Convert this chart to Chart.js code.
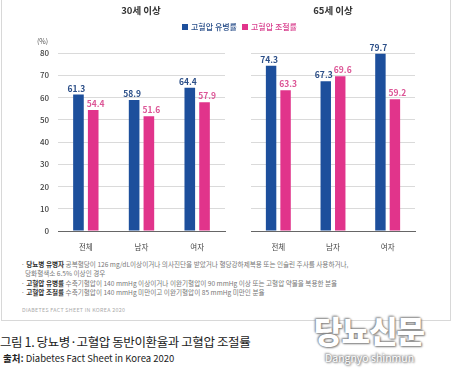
<!DOCTYPE html>
<html>
<head>
<meta charset="utf-8">
<script src="https://cdn.jsdelivr.net/npm/chart.js@4/dist/chart.umd.min.js"></script>
<style>
  body { margin: 0; background: #fff; font-family: "Noto Sans CJK KR", "Noto Sans", sans-serif; }
  #wrap { position: relative; width: 455px; height: 370px; overflow: hidden; }
  .abs { position: absolute; white-space: nowrap; }
  #box { left: 1px; top: -2px; width: 450px; height: 323px; border: 1px solid #d8d8d8; box-sizing: border-box; }
  canvas { position: absolute; top: 0; }
  .ttl { top: 3px; font-size: 9.5px; font-weight: 700; color: #333; transform: translateX(-50%); }
  .leg { top: 21px; font-size: 8px; font-weight: 500; }
  .leg i { display: inline-block; width: 6px; height: 6px; margin-right: 3px; vertical-align: 0px; }
  .note { left: 21px; font-size: 6.6px; color: #777; }
  .note b { color: #333; }
  .wm { color: #fff; text-shadow: 0 0 2px #777, 1px 1px 2px #888, -1px -1px 2px #999; }
</style>
</head>
<body>
<div id="wrap">
  <div id="box" class="abs"></div>
  <canvas id="c30" width="230" height="252" style="left:0"></canvas>
  <canvas id="c65" width="230" height="252" style="left:225px"></canvas>
  <div class="abs ttl" style="left:141px">30세 이상</div>
  <div class="abs ttl" style="left:333px">65세 이상</div>
  <div class="abs leg" style="left:182px;color:#2a4f8a"><i style="background:#1d4f9c"></i>고혈압 유병률</div>
  <div class="abs leg" style="left:242px;color:#d9418f"><i style="background:#e1348b"></i>고혈압 조절률</div>
  <div class="abs" style="left:37px;top:36px;font-size:7px;color:#555">(%)</div>

  <div class="abs note" style="top:259px">· <b>당뇨병 유병자</b> 공복혈당이 126 mg/dL이상이거나 의사진단을 받았거나 혈당강하제복용 또는 인슐린 주사를 사용하거나,</div>
  <div class="abs note" style="top:268px;left:25px">당화혈색소 6.5% 이상인 경우</div>
  <div class="abs note" style="top:278px">· <b>고혈압 유병률</b> 수축기혈압이 140 mmHg 이상이거나 이완기혈압이 90 mmHg 이상 또는 고혈압 약물을 복용한 분율</div>
  <div class="abs note" style="top:287px">· <b>고혈압 조절률</b> 수축기혈압이 140 mmHg 미만이고 이완기혈압이 85 mmHg 미만인 분율</div>
  <div class="abs" style="left:22px;top:306px;font-size:5.3px;color:#aaa;letter-spacing:0.3px">DIABETES FACT SHEET IN KOREA 2020</div>

  <div class="abs" style="left:0;top:332px;font-size:12.5px;color:#222;letter-spacing:-0.4px">그림 1. 당뇨병·고혈압 동반이환율과 고혈압 조절률</div>
  <div class="abs" style="left:3px;top:351px;font-size:9.5px;color:#222"><b style="font-weight:600">출처:</b> Diabetes Fact Sheet in Korea 2020</div>

  <div class="abs wm" style="left:314px;top:307px;font-size:31px;font-weight:900;letter-spacing:-1px">당뇨신문</div>
  <div class="abs wm" style="left:325px;top:350px;font-size:10.5px">Dangnyo shinmun</div>
</div>
<script>
const categories = ['전체', '남자', '여자'];
const prevalence30 = [61.3, 58.9, 64.4];
const control30 = [54.4, 51.6, 57.9];
const prevalence65 = [74.3, 67.3, 79.7];
const control65 = [63.3, 69.6, 59.2];
const yTicks = [0, 10, 20, 30, 40, 50, 60, 70, 80];
const seriesNames = ['고혈압 유병률', '고혈압 조절률'];

const BLUE = '#1d4f9c';
const PINK = '#e1348b';
const FONT = '"Noto Sans CJK KR", "Noto Sans", sans-serif';

// draws the number above each bar
const valueLabels = {
  id: 'valueLabels',
  afterDatasetsDraw(chart) {
    const ctx = chart.ctx;
    ctx.save();
    ctx.font = '600 8.5px ' + FONT;
    ctx.textAlign = 'center';
    ctx.textBaseline = 'bottom';
    chart.data.datasets.forEach((ds, i) => {
      const shift = i === 0 ? -2 : 2.5;
      ctx.fillStyle = i === 0 ? '#2c4f88' : '#dc5596';
      chart.getDatasetMeta(i).data.forEach((bar, j) => {
        ctx.fillText(ds.data[j].toFixed(1), bar.x + shift, bar.y - 2);
      });
    });
    ctx.restore();
  }
};

function makeChart(id, a, b, showTicks) {
  return new Chart(document.getElementById(id), {
    type: 'bar',
    data: {
      labels: categories,
      datasets: [
        { label: seriesNames[0], data: a, backgroundColor: BLUE },
        { label: seriesNames[1], data: b, backgroundColor: PINK }
      ]
    },
    options: {
      responsive: false,
      animation: false,
      layout: { padding: { top: 53, right: showTicks ? 5 : 40, left: 0, bottom: 0 } },
      datasets: { bar: { categoryPercentage: 0.53, barPercentage: 0.72 } },
      plugins: { legend: { display: false }, tooltip: { enabled: false } },
      scales: {
        x: {
          grid: { display: false },
          border: { color: '#666', width: 1 },
          ticks: { color: '#444', font: { family: FONT, size: 7.5 }, padding: 4 },
          afterFit(s) { s.height = 21; }
        },
        y: {
          min: 0, max: 80,
          afterBuildTicks(s) { s.ticks = yTicks.map(v => ({ value: v })); },
          grid: { color: '#dadada', drawTicks: false },
          border: { display: false },
          ticks: { display: showTicks, color: '#444', font: { family: FONT, size: 8, weight: '500' }, padding: 9 },
          afterFit(s) { s.width = showTicks ? 58 : 26; }
        }
      }
    },
    plugins: [valueLabels]
  });
}

makeChart('c30', prevalence30, control30, true);
makeChart('c65', prevalence65, control65, false);
</script>
</body>
</html>
